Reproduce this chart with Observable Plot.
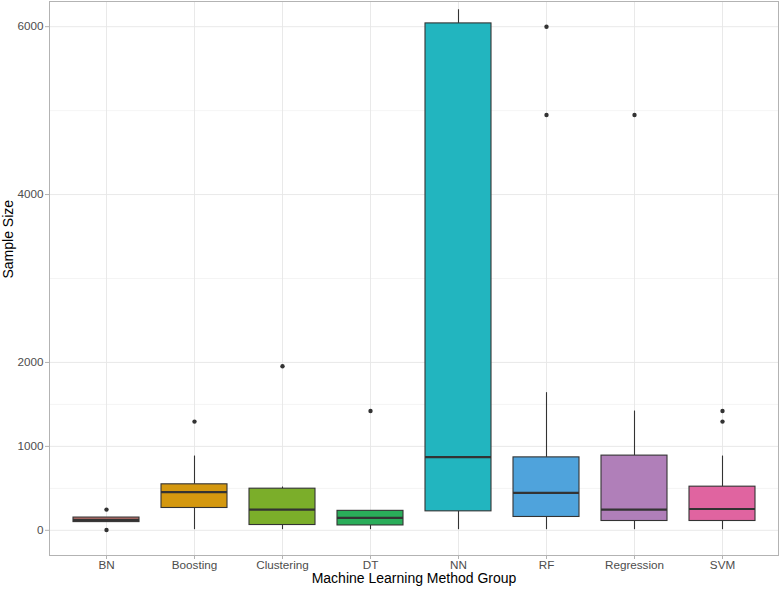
<!DOCTYPE html>
<html>
<head>
<meta charset="utf-8">
<script src="https://cdn.jsdelivr.net/npm/d3@7"></script>
<script src="https://cdn.jsdelivr.net/npm/@observablehq/plot@0.6"></script>
<style>
  html, body { margin: 0; padding: 0; background: #fff; }
  #chart { width: 780px; height: 589px; }
</style>
</head>
<body>
<div id="chart"></div>
<script>
// ---- data ----
const groups = ["BN", "Boosting", "Clustering", "DT", "NN", "RF", "Regression", "SVM"];
const whiskerLow  = [100,   8,   8,   8,    8,    8,    8,   8];
const q1          = [ 98, 266,  63,  58,  226,  159,  111, 111];
const median      = [125, 456, 247, 149,  873,  445,  247, 254];
const q3          = [152, 548, 496, 232, 6039,  869,  890, 520];
const whiskerHigh = [150, 885, 516, 232, 6202, 1640, 1421, 885];
const fillColors  = ["#C9766F", "#D4980F", "#7BAE2A", "#2AAD5A", "#22B5BF", "#4FA3DC", "#B07FB9", "#E064A0"];

const outlierGroup = ["BN", "BN", "Boosting", "Clustering", "DT", "RF", "RF", "Regression", "SVM", "SVM"];
const outlierValue = [247, 4, 1295, 1954, 1421, 6000, 4947, 4947, 1421, 1295];

const majorTicks = [0, 1000, 2000, 4000, 6000];
const minorTicks = [500, 1500, 3000, 5000];

const xTitle = "Machine Learning Method Group";
const yTitle = "Sample Size";

// ---- tables built from the arrays ----
const boxes = groups.map((g, i) => ({
  group: g, lo: whiskerLow[i], q1: q1[i], med: median[i], q3: q3[i], hi: whiskerHigh[i], color: fillColors[i]
}));
const outliers = outlierGroup.map((g, i) => ({group: g, value: outlierValue[i]}));

const chart = Plot.plot({
  width: 780,
  height: 589,
  marginLeft: 49,
  marginRight: 2,
  marginTop: 1,
  marginBottom: 34,
  style: {fontFamily: "'Liberation Sans', Arial, sans-serif", fontSize: "11.7px", background: "#fff"},
  x: {domain: groups, paddingInner: 0.25, paddingOuter: 0.225, align: 0.5, label: null},
  y: {domain: [-300, 6300], label: null},
  marks: [
    Plot.gridY(minorTicks, {stroke: "#f1f1f1", strokeOpacity: 1, strokeWidth: 0.8}),
    Plot.gridY(majorTicks, {stroke: "#e6e6e6", strokeOpacity: 1, strokeWidth: 0.9}),
    Plot.gridX(groups, {stroke: "#e6e6e6", strokeOpacity: 1, strokeWidth: 0.9}),
    Plot.axisY(majorTicks, {tickSize: 4, tickPadding: 2, tickFormat: d => String(d), fontSize: 11.7, color: "#4d4d4d", stroke: "#b3b3b3", label: null}),
    Plot.axisX({tickSize: 4, tickPadding: 1, fontSize: 11.7, color: "#4d4d4d", stroke: "#b3b3b3", label: null}),
    Plot.ruleX(boxes, {x: "group", y1: "lo", y2: "q1", stroke: "#333333", strokeWidth: 1.1}),
    Plot.ruleX(boxes, {x: "group", y1: "q3", y2: "hi", stroke: "#333333", strokeWidth: 1.1}),
    Plot.barY(boxes, {x: "group", y1: "q1", y2: "q3", fill: "color", stroke: "#333333", strokeWidth: 1.1}),
    Plot.tickY(boxes, {x: "group", y: "med", stroke: "#333333", strokeWidth: 2.2}),
    Plot.dot(outliers, {x: "group", y: "value", r: 2.2, fill: "#333333", stroke: null}),
    Plot.frame({stroke: "#b3b3b3", strokeWidth: 1}),
    Plot.text([xTitle], {text: d => d, frameAnchor: "bottom", dy: 27.5, fontSize: 14, fill: "#000"}),
    Plot.text([yTitle], {text: d => d, frameAnchor: "left", rotate: -90, dx: -41, fontSize: 14, fill: "#000"})
  ]
});
document.getElementById("chart").appendChild(chart);
</script>
</body>
</html>
